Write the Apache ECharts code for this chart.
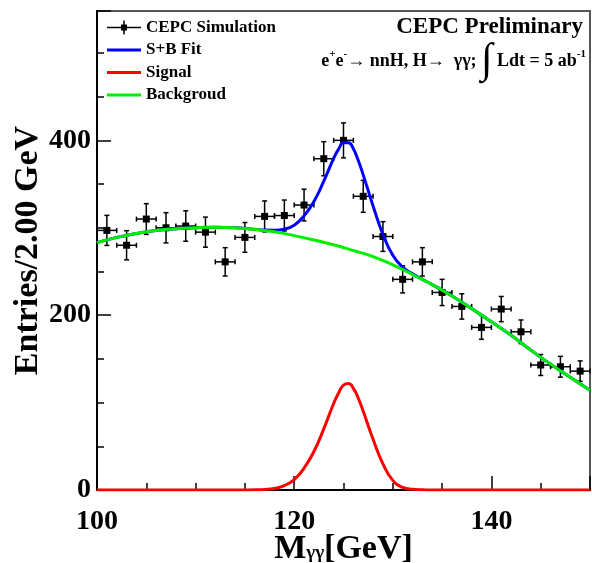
<!DOCTYPE html>
<html>
<head>
<meta charset="utf-8">
<script src="https://cdn.jsdelivr.net/npm/echarts@6/dist/echarts.min.js"></script>
<style>
  html, body { margin: 0; padding: 0; background: #fff; }
  #chart { width: 592px; height: 563px; }
</style>
</head>
<body>
<div id="chart"></div>
<script>
// Diphoton invariant-mass spectrum, 2 GeV bins
const massBins = [101, 103, 105, 107, 109, 111, 113, 115, 117, 119, 121, 123, 125,
                  127, 129, 131, 133, 135, 137, 139, 141, 143, 145, 147, 149];
const counts   = [297, 280, 310, 300, 302, 295, 261, 289, 313, 314, 326, 379, 400,
                  336, 290, 241, 261, 226, 210, 186, 207, 181, 143, 141, 136];
const countErr = [17.2, 16.7, 17.6, 17.3, 17.4, 17.2, 16.2, 17.0, 17.7, 17.7, 18.1, 19.5, 20.0,
                  18.3, 17.0, 15.5, 16.2, 15.0, 14.5, 13.6, 14.4, 13.5, 12.0, 11.9, 11.7];
const binHalfWidth = 1;

// Background component of the fit
const bkgMass = [100, 102, 104, 106, 108, 110, 112, 114, 116, 118, 120, 122, 124,
                 126, 128, 130, 132, 134, 136, 138, 140, 142, 144, 146, 148, 150];
const bkgVal  = [283, 289, 293.5, 297, 299, 300, 300.5, 300, 298, 295.5, 291, 286, 280.5,
                 274, 267, 257.5, 246.5, 235, 222, 207.5, 192.5, 177, 160, 144, 129, 114];

// Signal component of the fit
const sigMass = [100, 108, 112, 114, 115, 116, 117, 118, 119, 120, 121, 122, 123, 124, 124.5, 125,
                 125.5, 126, 126.5, 127, 128, 129, 130, 131, 132, 133, 134, 135, 136, 140, 144, 150];
const sigVal  = [0, 0, 0, 0, 0.05, 0.2, 0.6, 1.8, 5, 12, 25, 44, 70, 99, 111, 120,
                 121.7, 116.3, 105, 90, 58, 30, 11, 3, 0.8, 0.2, 0, 0, 0, 0, 0, 0];

// Signal + background fit
const fitMass = [100, 102, 104, 106, 108, 110, 112, 114, 116, 117, 118, 119, 120, 121, 122, 123,
                 124, 124.5, 125, 125.5, 126, 126.5, 127, 128, 129, 130, 131, 132, 133, 134, 136,
                 138, 140, 142, 144, 146, 148, 150];
const fitVal  = [283, 289, 293.5, 297, 299, 300, 300.5, 300, 298.2, 297.4, 297.3, 298.3, 303, 313.6, 330, 353.3,
                 379.5, 390, 397.3, 397.4, 390.3, 377, 360.5, 325, 292.3, 268.5, 255, 247.3, 241, 235, 222,
                 207.5, 192.5, 177, 160, 144, 129, 114];

const xTicks = [100, 120, 140];
const yTicks = [0, 200, 400];

const SERIF = "'Liberation Serif', 'Times New Roman', serif";

const pairs = (xs, ys) => xs.map((x, i) => [x, ys[i]]);

const chart = echarts.init(document.getElementById('chart'));

// Legend glyphs, each spanning a 34 x 14 box
const dataIcon = 'path://M0,6.25H34V7.75H0Z M16.25,0H17.75V14H16.25Z M14,4H20V10H14Z';
const lineIcon = 'path://M0,0H0.05V0.05H0Z M0,5.5H34V8.5H0Z M33.95,13.95H34V14H33.95Z';

const tickStyle = { color: '#000', width: 1.5 };

chart.setOption({
  animation: false,
  backgroundColor: '#fff',
  grid: {
    left: 97, right: 2, top: 11, bottom: 73,
    outerBoundsMode: 'none',
    containLabel: false,
    show: true, borderColor: '#555', borderWidth: 2, backgroundColor: 'transparent'
  },
  legend: {
    orient: 'vertical',
    left: 107, top: 19,
    padding: 0,
    itemWidth: 34, itemHeight: 14, itemGap: 5.5,
    textStyle: { fontFamily: SERIF, fontWeight: 'bold', fontSize: 17, color: '#000' },
    data: [
      { name: 'CEPC Simulation', icon: dataIcon },
      { name: 'S+B Fit', icon: lineIcon },
      { name: 'Signal', icon: lineIcon },
      { name: 'Backgroud', icon: lineIcon }
    ]
  },
  xAxis: [{
    type: 'value', min: 100, max: 150, interval: 20,
    axisLine: { show: true, onZero: false, lineStyle: { color: '#000', width: 2 } },
    axisTick: { show: true, inside: true, length: 14, lineStyle: tickStyle },
    axisLabel: {
      margin: 18, fontFamily: SERIF, fontWeight: 'bold', fontSize: 28, color: '#000',
      formatter: v => (xTicks.indexOf(v) >= 0 ? String(v) : '')
    },
    splitLine: { show: false },
    name: '{m|M}{s|γγ}{m|[GeV]}',
    nameLocation: 'middle', nameGap: 42, nameMoveOverlap: false,
    nameTextStyle: {
      rich: {
        m: { fontFamily: SERIF, fontWeight: 'bold', fontSize: 34, color: '#000' },
        s: { fontFamily: SERIF, fontWeight: 'bold', fontSize: 19, color: '#000', verticalAlign: 'bottom', padding: [0, 0, 3, 0] }
      }
    }
  }, {
    type: 'value', min: 100, max: 150, interval: 5, position: 'bottom', offset: 0,
    axisLine: { show: false, onZero: false },
    axisTick: { show: true, inside: true, length: 7, lineStyle: tickStyle },
    axisLabel: { show: false },
    splitLine: { show: false }
  }],
  yAxis: [{
    type: 'value', min: 0, max: 548, interval: 200,
    axisLine: { show: true, onZero: false, lineStyle: { color: '#000', width: 2 } },
    axisTick: { show: true, inside: true, length: 14, lineStyle: tickStyle },
    axisLabel: {
      margin: 6, fontFamily: SERIF, fontWeight: 'bold', fontSize: 28, color: '#000',
      formatter: v => (yTicks.indexOf(v) >= 0 ? String(v) : '')
    },
    splitLine: { show: false },
    name: 'Entries/2.00 GeV',
    nameLocation: 'middle', nameGap: 52, nameMoveOverlap: false,
    nameTextStyle: { fontFamily: SERIF, fontWeight: 'bold', fontSize: 34, color: '#000' }
  }, {
    type: 'value', min: 0, max: 548, interval: 50, position: 'left', offset: 0,
    axisLine: { show: false, onZero: false },
    axisTick: { show: true, inside: true, length: 7, lineStyle: tickStyle },
    axisLabel: { show: false },
    splitLine: { show: false }
  }],
  graphic: [
    {
      type: 'text', right: 9, top: 16,
      style: { text: 'CEPC Preliminary', font: "bold 23px 'Liberation Serif', serif", fill: '#000' }
    },
    {
      type: 'text', right: 6, top: 40,
      style: {
        text: '{t|e}{p|+}{t|e}{p|-}{t|→ nnH, H→  γγ; }{i|∫}{t| Ldt = 5 ab}{p|-1}',
        rich: {
          t: { fontFamily: SERIF, fontWeight: 'bold', fontSize: 18, fill: '#000', verticalAlign: 'middle' },
          p: { fontFamily: SERIF, fontWeight: 'bold', fontSize: 11, fill: '#000', verticalAlign: 'top', padding: [9, 0, 0, 0] },
          i: { fontFamily: SERIF, fontSize: 42, fill: '#000', verticalAlign: 'middle' }
        }
      }
    }
  ],
  series: [
    {
      name: 'CEPC Simulation',
      type: 'custom',
      xAxisIndex: 0, yAxisIndex: 0,
      z: 2,
      itemStyle: { color: '#000' },
      data: massBins.map((m, i) => [m, counts[i], countErr[i]]),
      renderItem: function (params, api) {
        const x = api.value(0), y = api.value(1), e = api.value(2);
        const c = api.coord([x, y]);
        const t = api.coord([x, y + e]);
        const b = api.coord([x, y - e]);
        const l = api.coord([x - binHalfWidth, y]);
        const r = api.coord([x + binHalfWidth, y]);
        const st = { stroke: '#000', lineWidth: 1.5 };
        const cap = 2.5;
        return {
          type: 'group',
          children: [
            { type: 'line', shape: { x1: c[0], y1: t[1], x2: c[0], y2: b[1] }, style: st },
            { type: 'line', shape: { x1: l[0], y1: c[1], x2: r[0], y2: c[1] }, style: st },
            { type: 'line', shape: { x1: c[0] - cap, y1: t[1], x2: c[0] + cap, y2: t[1] }, style: st },
            { type: 'line', shape: { x1: c[0] - cap, y1: b[1], x2: c[0] + cap, y2: b[1] }, style: st },
            { type: 'line', shape: { x1: l[0], y1: c[1] - cap, x2: l[0], y2: c[1] + cap }, style: st },
            { type: 'line', shape: { x1: r[0], y1: c[1] - cap, x2: r[0], y2: c[1] + cap }, style: st },
            { type: 'rect', shape: { x: c[0] - 3.5, y: c[1] - 3.5, width: 7, height: 7 }, style: { fill: '#000' } }
          ]
        };
      }
    },
    {
      name: 'S+B Fit', type: 'line', z: 3,
      data: pairs(fitMass, fitVal),
      showSymbol: false, symbol: 'none', smooth: 0.5,
      lineStyle: { color: '#0000ff', width: 3 }, itemStyle: { color: '#0000ff' }
    },
    {
      name: 'Signal', type: 'line', z: 3,
      data: pairs(sigMass, sigVal),
      showSymbol: false, symbol: 'none', smooth: 0.5,
      lineStyle: { color: '#ff0000', width: 3 }, itemStyle: { color: '#ff0000' }
    },
    {
      name: 'Backgroud', type: 'line', z: 4,
      data: pairs(bkgMass, bkgVal),
      showSymbol: false, symbol: 'none', smooth: 0.5,
      lineStyle: { color: '#00ee00', width: 3 }, itemStyle: { color: '#00ee00' }
    }
  ]
});
</script>
</body>
</html>
